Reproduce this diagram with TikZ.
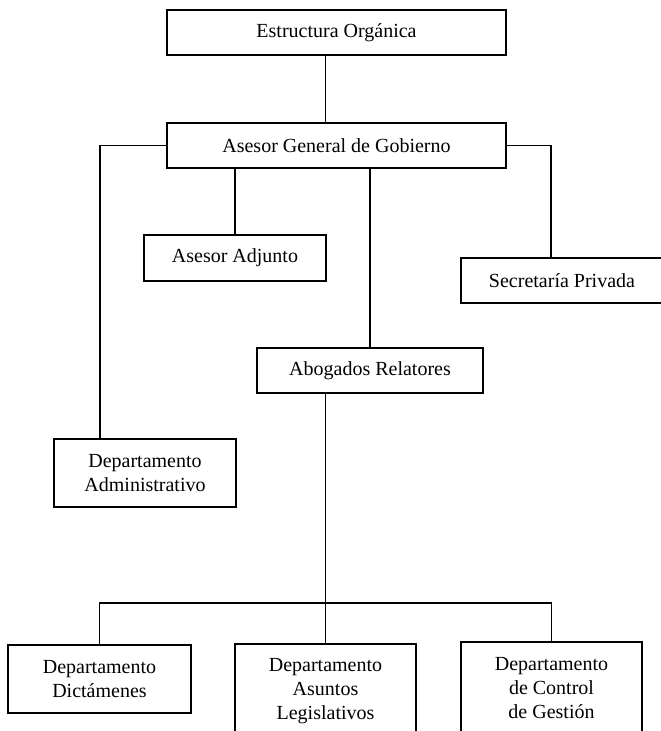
\documentclass[tikz,border=0pt]{standalone}
\usepackage{fontspec}
\setmainfont{Liberation Serif}
\usepackage{tikz}

\begin{document}
\begin{tikzpicture}[x=0.5pt,y=-0.5pt,line width=0.9pt,
	unit/.style={draw,line width=0.9pt,align=center,inner sep=0pt,font=\fontsize{10}{12}\selectfont}]
	\useasboundingbox (0,0) rectangle (660,731);
	\node[unit,minimum width=169.5pt,minimum height=22.5pt] (est) at (336.5,32.5) {Estructura Orgánica};
	\node[unit,minimum width=169.5pt,minimum height=22.5pt] (agg) at (336.5,145.5) {Asesor General de Gobierno};
	\node[unit,minimum width=91pt,minimum height=23pt] (adj) at (235,258) {Asesor Adjunto};
	\node[unit,minimum width=101pt,minimum height=22.5pt] (sec) at (562,280.5) {Secretaría Privada};
	\node[unit,minimum width=113pt,minimum height=22.5pt] (abo) at (370,370.5) {Abogados Relatores};
	\node[unit,minimum width=91pt,minimum height=34pt] (adm) at (145,473) {Departamento\\Administrativo};
	\node[unit,minimum width=91.5pt,minimum height=34pt] (dic) at (99.5,679) {Departamento\\Dictámenes};
	\node[unit,minimum width=90.5pt,minimum height=47pt] (leg) at (325.5,691) {Departamento\\Asuntos\\Legislativos};
	\node[unit,minimum width=90.5pt,minimum height=46pt] (ctl) at (551.5,688) {Departamento\\de Control\\de Gestión};
	\coordinate (bus) at (325.5,603);
	% lineas
	\draw (est.south -| leg.north) -- (agg.north -| leg.north);
	\draw (agg.west) -| ([xshift=-22.5pt]adm.north);
	\draw (agg.south -| adj.north) -- (adj.north);
	\draw (agg.south -| abo.north) -- (abo.north);
	\draw (agg.east) -| ([xshift=-5.5pt]sec.north);
	\draw (abo.south -| bus) -- (bus);
	\draw (dic.north) |- (bus) -| (ctl.north);
	\draw (bus) -- (leg.north);
\end{tikzpicture}
\end{document}
